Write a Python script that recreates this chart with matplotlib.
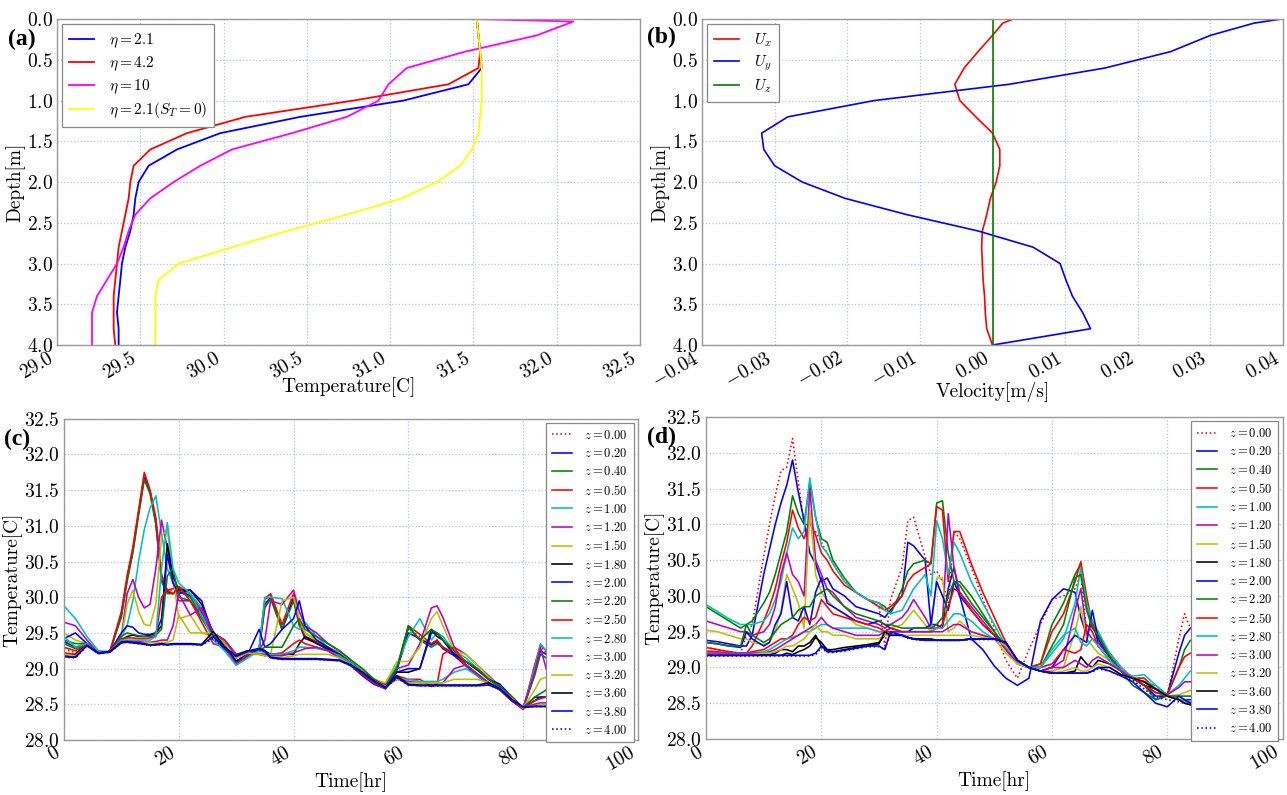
import matplotlib
matplotlib.use("Agg")
import matplotlib.pyplot as plt
from matplotlib.ticker import MultipleLocator

plt.rcParams['font.family'] = 'serif'
plt.rcParams['font.serif'] = ['cmr10', 'DejaVu Serif']
plt.rcParams['mathtext.fontset'] = 'cm'
plt.rcParams['axes.formatter.use_mathtext'] = True
plt.rcParams['axes.unicode_minus'] = True

# ---------------- Panel (a): temperature profiles ----------------
depth_a = [0.0, 0.2, 0.4, 0.6, 0.8, 1.0, 1.2, 1.4, 1.6, 1.8, 2.0,
           2.2, 2.4, 2.6, 2.8, 3.0, 3.2, 3.4, 3.6, 3.8, 4.0]
temp_eta21 = [31.52, 31.53, 31.54, 31.55, 31.47, 31.08, 30.46, 29.98, 29.72, 29.55, 29.49,
              29.47, 29.46, 29.44, 29.41, 29.39, 29.38, 29.37, 29.36, 29.37, 29.37]
temp_eta42 = [31.52, 31.53, 31.54, 31.53, 31.35, 30.78, 30.13, 29.78, 29.56, 29.46, 29.44,
              29.43, 29.41, 29.39, 29.37, 29.36, 29.35, 29.34, 29.34, 29.34, 29.35]
depth_a10 = [0.0, 0.03, 0.2, 0.4, 0.6, 0.8, 1.0, 1.2, 1.4, 1.6, 1.8, 2.0,
             2.2, 2.4, 2.6, 2.8, 3.0, 3.2, 3.4, 3.6, 3.8, 4.0]
temp_eta10 = [31.52, 32.10, 31.88, 31.45, 31.10, 30.99, 30.93, 30.74, 30.41, 30.05, 29.86, 29.70,
              29.56, 29.47, 29.43, 29.40, 29.36, 29.30, 29.24, 29.21, 29.21, 29.21]
temp_eta21_st0 = [31.52, 31.53, 31.54, 31.55, 31.55, 31.55, 31.54, 31.53, 31.49, 31.42, 31.28,
                  31.07, 30.74, 30.38, 30.05, 29.73, 29.61, 29.59, 29.59, 29.59, 29.59]
labels_a = [r'$\eta=2.1$', r'$\eta=4.2$', r'$\eta=10$', r'$\eta=2.1(S_T=0)$']

# ---------------- Panel (b): velocity profiles ----------------
depth_b = [0.0, 0.05, 0.2, 0.4, 0.6, 0.8, 1.0, 1.2, 1.4, 1.6, 1.8, 2.0,
           2.2, 2.4, 2.6, 2.8, 3.0, 3.2, 3.4, 3.6, 3.8, 4.0]
vel_ux = [0.0028, 0.0014, 0.0, -0.0020, -0.0039, -0.0052, -0.0045, -0.0023, 0.0, 0.0010, 0.0010, 0.0005,
          -0.0003, -0.0008, -0.0014, -0.0015, -0.0014, -0.0013, -0.0011, -0.0010, -0.0008, 0.0]
vel_uy = [0.0397, 0.0360, 0.0300, 0.0245, 0.0155, 0.0023, -0.0163, -0.0282, -0.0318, -0.0315, -0.0300, -0.0262,
          -0.0203, -0.0118, -0.0020, 0.0056, 0.0093, 0.0101, 0.0110, 0.0124, 0.0135, 0.0]
vel_uz = [0.0] * len(depth_b)
labels_b = [r'$U_x$', r'$U_y$', r'$U_z$']

# ---------------- Panels (c), (d): time series ----------------
depths_z = [0.00, 0.20, 0.40, 0.50, 1.00, 1.20, 1.50, 1.80, 2.00,
            2.20, 2.50, 2.80, 3.00, 3.20, 3.60, 3.80, 4.00]

time_c = [0, 2, 4, 6, 8, 10, 11, 12, 13, 14,
          15, 16, 17, 18, 19, 20, 22, 24, 26, 28,
          30, 32, 34, 35, 36, 38, 40, 41, 42, 44,
          46, 48, 50, 52, 54, 56, 58, 60, 62, 64,
          65, 66, 68, 70, 72, 74, 76, 78, 80, 82,
          83, 84]

c_000 = [29.28, 29.22, 29.35, 29.22, 29.24, 29.78, 30.28, 30.68, 31.20, 31.72,
         31.50, 31.10, 30.30, 30.10, 30.10, 30.12, 30.05, 29.80, 29.50, 29.30,
         29.08, 29.20, 29.28, 29.95, 30.05, 29.60, 30.05, 29.65, 29.45, 29.38,
         29.28, 29.20, 29.05, 28.92, 28.80, 28.72, 29.00, 29.55, 29.45, 29.35,
         29.40, 29.30, 29.20, 29.05, 28.92, 28.80, 28.70, 28.55, 28.43, 29.00,
         29.30, 29.22]
c_020 = [29.38, 29.30, 29.35, 29.22, 29.24, 29.75, 30.25, 30.65, 31.18, 31.68,
         31.48, 31.05, 30.25, 30.08, 30.05, 30.10, 30.02, 29.78, 29.48, 29.28,
         29.06, 29.18, 29.26, 29.90, 30.00, 29.55, 30.00, 29.62, 29.42, 29.36,
         29.26, 29.18, 29.04, 28.90, 28.78, 28.72, 28.98, 29.50, 29.42, 29.33,
         29.38, 29.28, 29.18, 29.04, 28.90, 28.78, 28.70, 28.55, 28.44, 28.95,
         29.25, 29.20]
c_040 = [29.35, 29.28, 29.35, 29.22, 29.24, 29.72, 30.22, 30.62, 31.15, 31.65,
         31.45, 31.02, 30.22, 30.05, 30.05, 30.08, 30.00, 29.75, 29.45, 29.35,
         29.10, 29.22, 29.28, 29.85, 29.98, 29.55, 29.95, 29.60, 29.50, 29.40,
         29.30, 29.22, 29.06, 28.93, 28.80, 28.73, 29.02, 29.58, 29.40, 29.30,
         29.35, 29.30, 29.22, 29.06, 28.93, 28.80, 28.72, 28.57, 28.44, 28.90,
         29.20, 29.15]
c_050 = [29.22, 29.20, 29.35, 29.22, 29.24, 29.80, 30.30, 30.70, 31.22, 31.75,
         31.50, 31.12, 30.32, 30.10, 30.12, 30.15, 30.05, 29.82, 29.52, 29.30,
         29.08, 29.20, 29.28, 29.98, 30.05, 29.62, 30.05, 29.65, 29.45, 29.38,
         29.28, 29.20, 29.05, 28.92, 28.80, 28.72, 29.00, 29.60, 29.48, 29.35,
         29.40, 29.30, 29.20, 29.05, 28.92, 28.80, 28.70, 28.55, 28.43, 29.05,
         29.33, 29.25]
c_100 = [29.88, 29.70, 29.45, 29.25, 29.24, 29.45, 29.60, 29.95, 30.50, 30.95,
         31.25, 31.42, 30.90, 30.40, 30.20, 30.10, 30.05, 29.85, 29.45, 29.25,
         29.05, 29.15, 29.30, 30.00, 30.00, 29.98, 29.60, 29.55, 29.65, 29.45,
         29.30, 29.22, 29.10, 29.00, 28.85, 28.78, 29.05, 29.45, 29.70, 29.40,
         29.50, 29.45, 29.25, 29.15, 29.00, 28.85, 28.72, 28.60, 28.45, 29.00,
         29.35, 29.25]
c_120 = [29.65, 29.60, 29.40, 29.22, 29.24, 29.45, 30.05, 30.25, 30.00, 29.85,
         29.90, 30.40, 31.08, 30.70, 30.20, 29.95, 29.95, 29.75, 29.50, 29.40,
         29.15, 29.22, 29.25, 29.40, 29.95, 29.90, 30.10, 29.80, 29.60, 29.50,
         29.35, 29.25, 29.12, 28.98, 28.85, 28.78, 29.00, 29.05, 29.35, 29.85,
         29.88, 29.72, 29.30, 29.20, 29.05, 28.90, 28.75, 28.60, 28.45, 28.95,
         29.30, 29.00]
c_150 = [29.50, 29.40, 29.35, 29.22, 29.24, 29.42, 29.90, 30.10, 29.80, 29.62,
         29.60, 29.90, 30.85, 30.95, 30.30, 29.70, 29.75, 29.50, 29.45, 29.35,
         29.15, 29.20, 29.22, 29.20, 29.20, 29.95, 30.00, 29.70, 29.50, 29.40,
         29.30, 29.22, 29.10, 28.98, 28.85, 28.80, 29.10, 29.10, 29.30, 29.70,
         29.80, 29.60, 29.25, 29.20, 29.05, 28.88, 28.75, 28.62, 28.45, 28.70,
         28.85, 28.88]
c_180 = [29.17, 29.20, 29.35, 29.22, 29.24, 29.40, 29.45, 29.47, 29.45, 29.45,
         29.47, 29.50, 29.60, 30.75, 30.30, 30.10, 30.10, 29.90, 29.50, 29.35,
         29.10, 29.20, 29.28, 29.25, 29.20, 29.20, 29.20, 29.35, 29.45, 29.35,
         29.28, 29.20, 29.08, 28.95, 28.85, 28.75, 28.95, 28.95, 29.00, 29.55,
         29.45, 29.40, 29.20, 29.10, 28.98, 28.85, 28.75, 28.60, 28.45, 28.55,
         28.60, 28.60]
c_200 = [29.42, 29.50, 29.35, 29.22, 29.24, 29.50, 29.60, 29.58, 29.50, 29.48,
         29.48, 29.50, 29.70, 30.60, 30.20, 30.05, 30.10, 29.95, 29.45, 29.30,
         29.10, 29.20, 29.55, 29.30, 29.35, 29.55, 29.70, 29.95, 29.60, 29.40,
         29.30, 29.20, 29.08, 28.95, 28.82, 28.72, 28.95, 29.00, 29.00, 29.50,
         29.50, 29.40, 29.20, 29.10, 29.00, 28.85, 28.78, 28.60, 28.45, 28.60,
         28.60, 28.60]
c_220 = [29.40, 29.35, 29.35, 29.22, 29.24, 29.45, 29.50, 29.48, 29.46, 29.45,
         29.45, 29.47, 29.55, 30.30, 30.40, 30.00, 29.95, 29.70, 29.45, 29.40,
         29.20, 29.25, 29.25, 29.30, 29.30, 29.30, 29.60, 29.70, 29.55, 29.45,
         29.35, 29.25, 29.12, 29.00, 28.85, 28.75, 29.00, 29.60, 29.40, 29.55,
         29.50, 29.40, 29.25, 29.10, 29.00, 28.85, 28.75, 28.60, 28.45, 28.60,
         28.65, 28.70]
c_250 = [29.30, 29.25, 29.35, 29.22, 29.24, 29.42, 29.43, 29.43, 29.42, 29.42,
         29.43, 29.45, 30.00, 30.10, 30.05, 30.15, 29.95, 29.65, 29.35, 29.30,
         29.05, 29.20, 29.20, 29.20, 29.20, 29.22, 29.35, 29.40, 29.35, 29.30,
         29.25, 29.15, 29.05, 28.92, 28.80, 28.72, 28.90, 28.85, 28.85, 28.75,
         28.78, 29.20, 29.30, 29.05, 28.92, 28.80, 28.70, 28.55, 28.43, 28.55,
         28.58, 28.60]
c_280 = [29.45, 29.30, 29.35, 29.22, 29.24, 29.40, 29.40, 29.40, 29.40, 29.40,
         29.40, 29.45, 30.40, 31.05, 30.40, 30.20, 30.05, 29.75, 29.40, 29.25,
         29.05, 29.15, 29.25, 29.22, 29.20, 29.20, 29.25, 29.30, 29.30, 29.28,
         29.25, 29.18, 29.08, 28.95, 28.82, 28.75, 28.85, 28.85, 28.82, 28.82,
         28.82, 28.85, 28.95, 29.00, 28.90, 28.80, 28.72, 28.58, 28.45, 28.50,
         28.50, 28.52]
c_300 = [29.20, 29.18, 29.33, 29.22, 29.24, 29.38, 29.38, 29.38, 29.38, 29.37,
         29.37, 29.38, 29.40, 29.40, 29.60, 30.05, 29.75, 29.85, 29.50, 29.40,
         29.20, 29.22, 29.20, 29.18, 29.18, 29.18, 29.22, 29.25, 29.28, 29.30,
         29.25, 29.15, 29.05, 28.95, 28.82, 28.75, 28.85, 28.82, 28.80, 28.80,
         28.80, 28.80, 29.00, 29.05, 28.92, 28.80, 28.72, 28.58, 28.45, 28.50,
         28.52, 28.52]
c_320 = [29.20, 29.18, 29.33, 29.22, 29.24, 29.37, 29.37, 29.37, 29.36, 29.36,
         29.36, 29.36, 29.37, 29.37, 29.40, 29.75, 29.50, 29.50, 29.50, 29.35,
         29.15, 29.22, 29.20, 29.18, 29.16, 29.15, 29.18, 29.20, 29.20, 29.20,
         29.20, 29.15, 29.05, 28.95, 28.83, 28.75, 28.85, 28.80, 28.80, 28.80,
         28.80, 28.80, 28.85, 28.85, 28.85, 28.80, 28.72, 28.58, 28.45, 28.48,
         28.50, 28.50]
c_360 = [29.17, 29.16, 29.33, 29.22, 29.24, 29.37, 29.38, 29.37, 29.36, 29.35,
         29.33, 29.34, 29.35, 29.34, 29.35, 29.35, 29.35, 29.34, 29.52, 29.30,
         29.18, 29.25, 29.28, 29.25, 29.16, 29.14, 29.14, 29.14, 29.14, 29.14,
         29.13, 29.12, 29.05, 28.95, 28.83, 28.74, 28.90, 28.78, 28.77, 28.77,
         28.77, 28.77, 28.77, 28.77, 28.77, 28.80, 28.72, 28.57, 28.46, 28.47,
         28.47, 28.47]
c_380 = [29.17, 29.16, 29.32, 29.21, 29.23, 29.36, 29.37, 29.36, 29.35, 29.34,
         29.33, 29.33, 29.34, 29.33, 29.34, 29.34, 29.34, 29.33, 29.45, 29.28,
         29.17, 29.24, 29.27, 29.24, 29.15, 29.13, 29.13, 29.13, 29.13, 29.13,
         29.12, 29.11, 29.04, 28.94, 28.82, 28.73, 28.88, 28.77, 28.76, 28.76,
         28.76, 28.76, 28.76, 28.76, 28.76, 28.77, 28.71, 28.56, 28.46, 28.47,
         28.47, 28.47]
c_400 = [29.16, 29.15, 29.32, 29.21, 29.23, 29.36, 29.37, 29.36, 29.35, 29.34,
         29.32, 29.33, 29.34, 29.33, 29.34, 29.34, 29.34, 29.33, 29.42, 29.28,
         29.17, 29.24, 29.27, 29.24, 29.15, 29.13, 29.13, 29.13, 29.13, 29.13,
         29.12, 29.11, 29.04, 28.94, 28.82, 28.73, 28.87, 28.77, 28.76, 28.76,
         28.76, 28.76, 28.76, 28.76, 28.76, 28.77, 28.71, 28.56, 28.46, 28.47,
         28.47, 28.47]

time_d = [0, 2, 4, 6, 7, 8, 10, 11, 12, 13,
          14, 15, 16, 17, 18, 19, 20, 21, 22, 24,
          26, 28, 30, 31, 32, 34, 35, 36, 38, 39,
          40, 41, 42, 43, 44, 46, 48, 50, 52, 54,
          56, 58, 60, 62, 64, 65, 66, 67, 68, 70,
          72, 74, 76, 78, 80, 82, 83, 84]

d_000 = [29.28, 29.25, 29.22, 29.20, 29.45, 29.60, 30.55, 31.00, 31.40, 31.75,
         31.80, 32.20, 31.60, 31.00, 31.00, 30.90, 30.75, 30.60, 30.45, 30.20,
         30.05, 29.95, 29.85, 29.30, 29.95, 30.40, 31.05, 31.10, 30.55, 30.30,
         30.35, 30.20, 29.90, 30.90, 30.80, 30.40, 29.95, 29.55, 29.10, 28.85,
         29.25, 29.60, 29.95, 30.00, 30.10, 30.30, 29.50, 29.60, 29.40, 29.20,
         29.00, 28.85, 28.85, 28.70, 28.60, 29.40, 29.75, 29.55]
d_020 = [29.38, 29.36, 29.33, 29.30, 29.30, 29.45, 30.30, 30.65, 31.00, 31.30,
         31.55, 31.90, 31.45, 31.05, 30.60, 30.45, 30.20, 30.25, 30.10, 30.00,
         29.85, 29.80, 29.75, 29.70, 29.80, 30.00, 30.75, 30.70, 30.50, 29.60,
         29.60, 29.55, 30.10, 30.40, 30.00, 29.40, 29.25, 29.02, 28.85, 28.75,
         28.85, 29.65, 29.95, 30.10, 30.05, 29.70, 29.45, 29.65, 29.35, 29.15,
         28.95, 28.85, 28.75, 28.65, 28.62, 29.20, 29.45, 29.55]
d_040 = [29.85, 29.75, 29.65, 29.55, 29.60, 29.65, 29.90, 30.05, 30.30, 30.60,
         30.90, 31.40, 31.15, 31.00, 31.60, 31.10, 30.80, 30.75, 30.50, 30.25,
         30.05, 29.95, 29.90, 29.85, 29.75, 30.10, 30.35, 30.45, 30.50, 30.45,
         31.30, 31.33, 30.60, 30.20, 30.20, 30.00, 29.75, 29.50, 29.25, 29.05,
         29.00, 29.05, 29.60, 29.90, 30.30, 30.45, 29.90, 29.55, 29.50, 29.15,
         28.95, 28.75, 28.65, 28.55, 28.62, 29.00, 29.25, 29.38]
d_050 = [29.28, 29.25, 29.22, 29.20, 29.20, 29.30, 29.65, 29.85, 30.10, 30.45,
         30.75, 31.20, 30.95, 30.80, 31.05, 30.85, 30.60, 30.50, 30.35, 30.15,
         30.05, 29.95, 29.85, 29.80, 29.85, 30.00, 30.20, 30.30, 30.40, 30.45,
         31.25, 31.20, 30.20, 30.90, 30.90, 30.45, 30.05, 29.70, 29.35, 29.10,
         29.00, 29.05, 29.50, 29.75, 30.20, 30.48, 30.00, 29.60, 29.45, 29.20,
         29.00, 28.85, 28.85, 28.70, 28.62, 29.00, 29.15, 29.20]
d_100 = [29.88, 29.78, 29.68, 29.60, 29.60, 29.60, 29.65, 29.75, 29.95, 30.20,
         30.60, 30.95, 30.80, 30.90, 31.65, 31.10, 30.70, 30.60, 30.45, 30.20,
         30.05, 29.95, 29.90, 29.80, 29.75, 29.80, 29.95, 30.10, 30.30, 30.00,
         31.05, 30.80, 30.30, 30.75, 30.60, 30.20, 29.90, 29.60, 29.30, 29.08,
         29.00, 29.00, 29.20, 29.40, 29.90, 30.40, 29.90, 29.65, 29.50, 29.20,
         29.00, 28.85, 28.80, 28.75, 28.62, 28.75, 28.85, 28.95]
d_120 = [29.65, 29.60, 29.55, 29.50, 29.50, 29.45, 29.50, 29.60, 29.85, 30.30,
         30.60, 30.30, 30.20, 30.00, 31.50, 30.50, 30.30, 30.10, 30.05, 29.85,
         29.70, 29.65, 29.60, 29.55, 29.60, 29.70, 29.80, 29.95, 29.70, 29.55,
         29.55, 29.60, 31.15, 30.40, 30.05, 29.85, 29.65, 29.45, 29.25, 29.05,
         29.00, 28.95, 29.00, 29.10, 29.80, 30.10, 29.50, 29.40, 29.35, 29.15,
         28.95, 28.85, 28.80, 28.70, 28.62, 28.72, 28.80, 28.80]
d_150 = [29.52, 29.50, 29.45, 29.40, 29.40, 29.35, 29.32, 29.35, 29.50, 29.80,
         30.30, 30.10, 29.90, 29.55, 31.20, 30.30, 30.05, 29.95, 29.85, 29.75,
         29.60, 29.55, 29.50, 29.50, 29.55, 29.60, 29.70, 29.80, 29.60, 29.50,
         30.25, 30.25, 29.50, 29.55, 29.65, 29.50, 29.45, 29.40, 29.20, 29.05,
         29.00, 28.95, 28.95, 29.00, 29.50, 29.85, 29.40, 29.30, 29.20, 29.10,
         28.95, 28.85, 28.80, 28.70, 28.60, 28.62, 28.65, 28.68]
d_180 = [29.17, 29.17, 29.17, 29.17, 29.17, 29.18, 29.18, 29.18, 29.20, 29.25,
         29.25, 29.22, 29.30, 29.30, 29.35, 29.45, 29.30, 29.25, 29.25, 29.28,
         29.30, 29.32, 29.35, 29.45, 29.45, 29.45, 29.42, 29.40, 29.40, 29.40,
         29.38, 29.38, 29.38, 29.38, 29.38, 29.40, 29.40, 29.40, 29.30, 29.10,
         29.00, 28.95, 28.93, 28.92, 28.95, 29.15, 29.05, 29.00, 29.10, 29.05,
         28.95, 28.85, 28.75, 28.70, 28.60, 28.55, 28.52, 28.50]
d_200 = [29.35, 29.33, 29.30, 29.28, 29.50, 29.40, 29.30, 29.35, 29.60, 29.75,
         30.20, 29.70, 29.65, 29.85, 29.60, 30.05, 30.25, 29.90, 29.85, 29.75,
         29.65, 29.60, 29.65, 29.60, 29.55, 29.50, 29.50, 29.55, 29.55, 29.60,
         30.20, 30.00, 29.80, 30.20, 30.00, 29.80, 29.60, 29.45, 29.30, 29.10,
         29.00, 28.95, 29.00, 29.25, 29.45, 29.40, 29.35, 29.80, 29.40, 29.15,
         28.95, 28.85, 28.75, 28.60, 28.60, 28.55, 28.55, 28.55]
d_220 = [29.35, 29.33, 29.30, 29.30, 29.60, 29.45, 29.35, 29.40, 29.50, 29.60,
         29.65, 29.70, 29.80, 29.85, 29.85, 30.00, 30.05, 30.10, 30.00, 29.85,
         29.75, 29.70, 29.65, 29.60, 29.60, 29.55, 29.55, 29.55, 29.55, 29.55,
         29.60, 29.70, 30.00, 30.20, 30.15, 29.90, 29.70, 29.50, 29.30, 29.10,
         29.00, 29.00, 29.30, 29.60, 30.25, 30.30, 29.80, 29.55, 29.45, 29.15,
         28.95, 28.85, 28.75, 28.55, 28.60, 28.60, 28.60, 28.60]
d_250 = [29.23, 29.22, 29.20, 29.20, 29.20, 29.22, 29.25, 29.30, 29.35, 29.40,
         29.40, 29.45, 29.60, 29.70, 29.65, 29.70, 29.95, 29.85, 29.75, 29.70,
         29.65, 29.60, 29.55, 29.50, 29.55, 29.50, 29.50, 29.50, 29.50, 29.50,
         29.55, 29.60, 29.85, 30.10, 30.05, 29.80, 29.60, 29.45, 29.30, 29.10,
         29.00, 29.00, 29.05, 29.25, 29.20, 29.25, 29.60, 29.50, 29.30, 29.10,
         28.95, 28.85, 28.75, 28.65, 28.60, 28.55, 28.55, 28.52]
d_280 = [29.20, 29.20, 29.20, 29.20, 29.20, 29.20, 29.22, 29.25, 29.30, 29.35,
         29.40, 29.42, 29.45, 29.50, 29.50, 29.55, 29.60, 29.60, 29.55, 29.55,
         29.55, 29.55, 29.50, 29.50, 29.50, 29.50, 29.50, 29.50, 29.50, 29.50,
         29.55, 29.55, 29.65, 29.75, 29.75, 29.65, 29.50, 29.40, 29.30, 29.10,
         29.00, 29.00, 29.25, 29.45, 29.55, 29.35, 29.30, 29.40, 29.30, 29.10,
         28.95, 28.88, 28.90, 28.75, 28.60, 28.55, 28.55, 28.52]
d_300 = [29.20, 29.20, 29.20, 29.20, 29.20, 29.20, 29.20, 29.22, 29.25, 29.30,
         29.35, 29.40, 29.45, 29.50, 29.55, 29.60, 29.70, 29.60, 29.55, 29.50,
         29.45, 29.45, 29.45, 29.50, 29.50, 29.50, 29.50, 29.50, 29.50, 29.50,
         29.50, 29.50, 29.55, 29.60, 29.60, 29.50, 29.45, 29.40, 29.30, 29.10,
         29.00, 28.95, 29.00, 29.00, 29.10, 29.05, 29.00, 29.10, 29.15, 29.05,
         28.95, 28.85, 28.80, 28.70, 28.60, 28.55, 28.52, 28.50]
d_320 = [29.18, 29.18, 29.18, 29.18, 29.18, 29.18, 29.20, 29.20, 29.22, 29.25,
         29.30, 29.30, 29.35, 29.40, 29.50, 29.60, 29.50, 29.50, 29.45, 29.45,
         29.40, 29.40, 29.40, 29.45, 29.45, 29.45, 29.45, 29.45, 29.45, 29.45,
         29.45, 29.45, 29.45, 29.45, 29.45, 29.45, 29.42, 29.40, 29.30, 29.10,
         29.00, 28.95, 28.92, 28.95, 29.00, 28.95, 28.95, 29.00, 29.05, 29.00,
         28.90, 28.85, 28.80, 28.70, 28.60, 28.55, 28.52, 28.48]
d_360 = [29.17, 29.17, 29.17, 29.17, 29.17, 29.17, 29.17, 29.17, 29.17, 29.17,
         29.20, 29.18, 29.22, 29.25, 29.30, 29.42, 29.35, 29.25, 29.22, 29.25,
         29.28, 29.30, 29.33, 29.50, 29.45, 29.45, 29.42, 29.40, 29.38, 29.38,
         29.38, 29.38, 29.38, 29.38, 29.38, 29.40, 29.40, 29.40, 29.35, 29.10,
         29.00, 28.95, 28.92, 28.92, 28.92, 28.92, 28.92, 28.95, 29.00, 29.00,
         28.90, 28.85, 28.80, 28.70, 28.60, 28.55, 28.50, 28.48]
d_380 = [29.17, 29.17, 29.17, 29.17, 29.17, 29.17, 29.17, 29.17, 29.17, 29.17,
         29.17, 29.17, 29.17, 29.17, 29.17, 29.20, 29.30, 29.22, 29.22, 29.24,
         29.27, 29.30, 29.30, 29.25, 29.50, 29.45, 29.42, 29.40, 29.38, 29.38,
         29.38, 29.38, 29.38, 29.38, 29.38, 29.40, 29.40, 29.40, 29.35, 29.10,
         29.00, 28.95, 28.92, 28.92, 28.92, 28.92, 28.92, 28.95, 29.00, 28.95,
         28.88, 28.80, 28.65, 28.50, 28.45, 28.60, 28.55, 28.50]
d_400 = [29.16, 29.16, 29.16, 29.16, 29.16, 29.16, 29.16, 29.16, 29.16, 29.16,
         29.16, 29.16, 29.16, 29.16, 29.16, 29.18, 29.28, 29.21, 29.21, 29.23,
         29.26, 29.29, 29.29, 29.25, 29.48, 29.44, 29.41, 29.39, 29.38, 29.38,
         29.38, 29.38, 29.38, 29.38, 29.38, 29.39, 29.39, 29.39, 29.34, 29.10,
         29.00, 28.95, 28.92, 28.92, 28.92, 28.92, 28.92, 28.94, 28.98, 28.95,
         28.88, 28.82, 28.70, 28.58, 28.55, 28.52, 28.50, 28.48]

series_c = [c_000, c_020, c_040, c_050, c_100, c_120, c_150, c_180, c_200,
            c_220, c_250, c_280, c_300, c_320, c_360, c_380, c_400]
series_d = [d_000, d_020, d_040, d_050, d_100, d_120, d_150, d_180, d_200,
            d_220, d_250, d_280, d_300, d_320, d_360, d_380, d_400]

# classic matplotlib colours
CB, CG, CR, CC, CM, CY, CK = '#0000ff', '#008000', '#ff0000', '#00bfbf', '#bf00bf', '#bfbf00', '#000000'
z_colors = [CR, CB, CG, CR, CC, CM, CY, CK, CB, CG, CR, CC, CM, CY, CK, CB, CB]
z_styles = [':'] + ['-'] * 15 + [':']

GRID = dict(color='#b9c1dc', linestyle=':', linewidth=0.9)
SPINE = '#9a9a9a'


def style_axes(ax):
    ax.grid(True, **GRID)
    ax.set_axisbelow(True)
    for s in ax.spines.values():
        s.set_color(SPINE)
        s.set_linewidth(1.0)
    ax.tick_params(length=0, labelsize=14, pad=3)
    for lab in ax.get_xticklabels():
        lab.set_rotation(30)
        lab.set_ha('right')


def leg(ax, loc, fs, spacing, hl=1.6, pad=0.45):
    lg = ax.legend(loc=loc, fontsize=fs, frameon=True, fancybox=False,
                   framealpha=1, edgecolor='#888888', labelspacing=spacing,
                   handlelength=hl, handletextpad=1.0, borderaxespad=0.35,
                   borderpad=pad)
    lg.get_frame().set_linewidth(0.9)
    return lg


fig = plt.figure(figsize=(12.87, 7.95), dpi=100)
ax_a = fig.add_axes([0.0443, 0.566, 0.453, 0.410])
ax_b = fig.add_axes([0.5455, 0.566, 0.4514, 0.410])
ax_c = fig.add_axes([0.0497, 0.0692, 0.446, 0.404])
ax_d = fig.add_axes([0.5486, 0.0704, 0.448, 0.405])

# (a)
ax_a.plot(temp_eta21, depth_a, color='#0000ff', lw=1.3, label=labels_a[0])
ax_a.plot(temp_eta42, depth_a, color='#ff0000', lw=1.3, label=labels_a[1])
ax_a.plot(temp_eta10, depth_a10, color='#ff00ff', lw=1.3, label=labels_a[2])
ax_a.plot(temp_eta21_st0, depth_a, color='#ffff00', lw=1.3, label=labels_a[3])
ax_a.set_xlim(29.0, 32.5)
ax_a.set_ylim(4.0, 0.0)
ax_a.xaxis.set_major_locator(MultipleLocator(0.5))
ax_a.yaxis.set_major_locator(MultipleLocator(0.5))
ax_a.set_xlabel('Temperature[C]', fontsize=14, labelpad=-4)
ax_a.set_ylabel('Depth[m]', fontsize=14, labelpad=1)
style_axes(ax_a)
leg(ax_a, 'upper left', 11, 0.3, pad=0.45)

# (b)
ax_b.plot(vel_ux, depth_b, color='#ff0000', lw=1.2, label=labels_b[0])
ax_b.plot(vel_uy, depth_b, color='#0000ff', lw=1.2, label=labels_b[1])
ax_b.plot(vel_uz, depth_b, color='#008000', lw=1.2, label=labels_b[2])
ax_b.set_xlim(-0.04, 0.04)
ax_b.set_ylim(4.0, 0.0)
ax_b.xaxis.set_major_locator(MultipleLocator(0.01))
ax_b.yaxis.set_major_locator(MultipleLocator(0.5))
ax_b.set_xlabel('Velocity[m/s]', fontsize=14, labelpad=-6)
ax_b.set_ylabel('Depth[m]', fontsize=14, labelpad=1)
style_axes(ax_b)
leg(ax_b, 'upper left', 11, 0.3, pad=0.45)

# (c), (d)
for ax, tt, series in ((ax_c, time_c, series_c), (ax_d, time_d, series_d)):
    for z, vals, col, ls in zip(depths_z, series, z_colors, z_styles):
        n = min(len(tt), len(vals))
        ax.plot(tt[:n], vals[:n], color=col, linestyle=ls, lw=1.15,
                label=r'$z=%.2f$' % z)
    ax.set_xlim(0, 100)
    ax.set_ylim(28.0, 32.5)
    ax.xaxis.set_major_locator(MultipleLocator(20))
    ax.yaxis.set_major_locator(MultipleLocator(0.5))
    ax.set_xlabel('Time[hr]', fontsize=14, labelpad=-2)
    ax.set_ylabel('Temperature[C]', fontsize=14, labelpad=1)
    style_axes(ax)
    leg(ax, 'upper right', 9, 0.42)

lab_font = dict(fontsize=17, fontweight='bold', family=['Liberation Serif', 'DejaVu Serif'], va='center')
fig.text(0.006, 0.951, '(a)', **lab_font)
fig.text(0.503, 0.953, '(b)', **lab_font)
fig.text(0.003, 0.447, '(c)', **lab_font)
fig.text(0.503, 0.450, '(d)', **lab_font)

fig.savefig('out.png', dpi=100)
